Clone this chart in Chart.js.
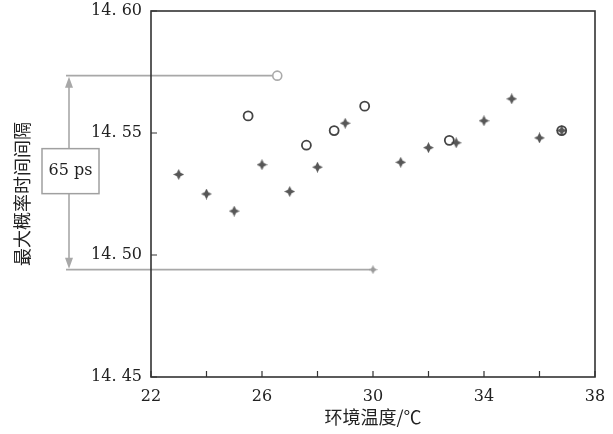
<!DOCTYPE html>
<html>
<head>
<meta charset="utf-8">
<script src="https://cdn.jsdelivr.net/npm/chart.js@4"></script>
<style>
  html, body { margin: 0; padding: 0; background: #fff; }
  #wrap { width: 613px; height: 434px; }
</style>
</head>
<body>
<div id="wrap"><canvas id="tempChart" width="613" height="434"></canvas></div>
<script>
// data
const starTemps = [23, 24, 25, 26, 27, 28, 29, 31, 32, 33, 34, 35, 36, 36.8];
const starValues = [14.533, 14.525, 14.518, 14.537, 14.526, 14.536, 14.554, 14.538, 14.544, 14.546, 14.555, 14.564, 14.548, 14.551];
const circleTemps = [25.5, 27.6, 28.6, 29.7, 32.75, 36.8];
const circleValues = [14.557, 14.545, 14.551, 14.561, 14.547, 14.551];
// the two reference points of the 65 ps annotation
const markTemps = [26.55, 30];
const markValues = [14.5735, 14.494];
const markLabel = '65 ps';
const xTicks = [22, 26, 30, 34, 38];

const serif = '"DejaVu Serif", "Liberation Serif", serif';
const cjk = '"Noto Sans CJK SC", sans-serif';

// 4-point star marker
function makeStar(color, size) {
  const c = document.createElement('canvas');
  c.width = size; c.height = size;
  const g = c.getContext('2d');
  const m = size / 2, k = m * 0.34;
  g.fillStyle = color;
  g.beginPath();
  g.moveTo(m, 0);
  g.lineTo(m + k, m - k);
  g.lineTo(size, m);
  g.lineTo(m + k, m + k);
  g.lineTo(m, size);
  g.lineTo(m - k, m + k);
  g.lineTo(0, m);
  g.lineTo(m - k, m - k);
  g.closePath();
  g.fill();
  return c;
}
const darkStar = makeStar('#575757', 11);
const greyStar = makeStar('#9a9a9a', 9);

const toPoints = (xs, ys) => xs.map((x, i) => ({ x: x, y: ys[i] }));

// frame, inward ticks and the 65 ps annotation
const framePlugin = {
  id: 'framePlugin',
  beforeDatasetsDraw(chart) {
    const ctx = chart.ctx;
    const xs = chart.scales.x, ys = chart.scales.y;
    const left = chart.chartArea.left;
    const startX = left - 85;
    const yTop = ys.getPixelForValue(markValues[0]);
    const yBot = ys.getPixelForValue(markValues[1]);
    const xTop = xs.getPixelForValue(markTemps[0]);
    const xBot = xs.getPixelForValue(markTemps[1]);
    ctx.save();
    ctx.strokeStyle = '#a8a8a8';
    ctx.lineWidth = 1.6;
    ctx.beginPath();
    ctx.moveTo(startX, yTop); ctx.lineTo(xTop - 4, yTop);
    ctx.moveTo(startX, yBot); ctx.lineTo(xBot - 3, yBot);
    const ax = startX + 3;
    ctx.moveTo(ax, yTop + 8); ctx.lineTo(ax, yBot - 8);
    ctx.stroke();
    ctx.fillStyle = '#a8a8a8';
    ctx.beginPath();
    ctx.moveTo(ax, yTop + 1); ctx.lineTo(ax - 4, yTop + 12); ctx.lineTo(ax + 4, yTop + 12); ctx.closePath();
    ctx.moveTo(ax, yBot - 1); ctx.lineTo(ax - 4, yBot - 12); ctx.lineTo(ax + 4, yBot - 12); ctx.closePath();
    ctx.fill();
    // label box
    const bx = startX - 24, bw = 57, bh = 45;
    const by = (yTop + yBot) / 2 - 24;
    ctx.fillStyle = '#fff';
    ctx.fillRect(bx, by, bw, bh);
    ctx.strokeStyle = '#a0a0a0';
    ctx.lineWidth = 1.5;
    ctx.strokeRect(bx, by, bw, bh);
    ctx.fillStyle = '#222';
    ctx.font = '16px ' + serif;
    ctx.textAlign = 'center';
    ctx.textBaseline = 'middle';
    ctx.fillText(markLabel, bx + bw / 2, by + bh / 2);
    ctx.restore();
  },
  afterDatasetsDraw(chart) {
    const ctx = chart.ctx;
    const a = chart.chartArea;
    const xs = chart.scales.x, ys = chart.scales.y;
    ctx.save();
    ctx.strokeStyle = '#333';
    ctx.lineWidth = 1.6;
    ctx.strokeRect(a.left, a.top, a.right - a.left, a.bottom - a.top);
    ctx.lineWidth = 1.2;
    ctx.beginPath();
    xs.ticks.forEach(t => {
      const px = xs.getPixelForValue(t.value);
      ctx.moveTo(px, a.bottom); ctx.lineTo(px, a.bottom - 6);
    });
    ys.ticks.forEach(t => {
      const py = ys.getPixelForValue(t.value);
      ctx.moveTo(a.left, py); ctx.lineTo(a.left + 6, py);
    });
    ctx.stroke();
    ctx.restore();
  }
};

const ctx = document.getElementById('tempChart').getContext('2d');
new Chart(ctx, {
  type: 'scatter',
  data: {
    datasets: [{
      label: 'stars',
      data: toPoints(starTemps, starValues),
      pointStyle: darkStar,
      order: 2
    }, {
      label: 'circles',
      data: toPoints(circleTemps, circleValues),
      pointStyle: 'circle',
      pointRadius: 4.5,
      borderColor: '#444',
      backgroundColor: 'rgba(0,0,0,0)',
      borderWidth: 1.8,
      order: 1
    }, {
      label: 'top mark',
      data: [{ x: markTemps[0], y: markValues[0] }],
      pointStyle: 'circle',
      pointRadius: 4.5,
      borderColor: '#aaa',
      backgroundColor: '#fff',
      borderWidth: 1.6,
      order: 0
    }, {
      label: 'bottom mark',
      data: [{ x: markTemps[1], y: markValues[1] }],
      pointStyle: greyStar,
      order: 0
    }]
  },
  options: {
    responsive: false,
    animation: false,
    events: [],
    layout: { padding: { left: 0, right: 18, top: 11, bottom: 0 } },
    plugins: {
      legend: { display: false },
      tooltip: { enabled: false }
    },
    scales: {
      x: {
        type: 'linear',
        min: 22,
        max: 38,
        afterFit: (s) => { s.height = 57; s.paddingLeft = 0; s.paddingRight = 0; },
        grid: { display: false, drawTicks: false },
        border: { display: false },
        ticks: {
          stepSize: 2,
          autoSkip: false,
          maxRotation: 0,
          padding: 10,
          color: '#222',
          font: { family: serif, size: 16 },
          callback: (v) => xTicks.includes(v) ? String(v) : ''
        },
        title: {
          display: true,
          text: '环境温度/℃',
          color: '#222',
          font: { family: cjk, size: 18 },
          padding: { top: 0, bottom: 6 }
        }
      },
      y: {
        min: 14.45,
        max: 14.60,
        afterFit: (s) => { s.width = 151; s.paddingTop = 0; s.paddingBottom = 0; },
        grid: { display: false, drawTicks: false },
        border: { display: false },
        ticks: {
          stepSize: 0.05,
          padding: 9,
          color: '#222',
          font: { family: serif, size: 16 },
          callback: (v) => Number(v).toFixed(2).replace('.', '. ')
        },
        title: {
          display: true,
          text: '最大概率时间间隔',
          color: '#222',
          font: { family: cjk, size: 18 },
          padding: { top: 11, bottom: 0 }
        }
      }
    }
  },
  plugins: [framePlugin]
});
</script>
</body>
</html>
